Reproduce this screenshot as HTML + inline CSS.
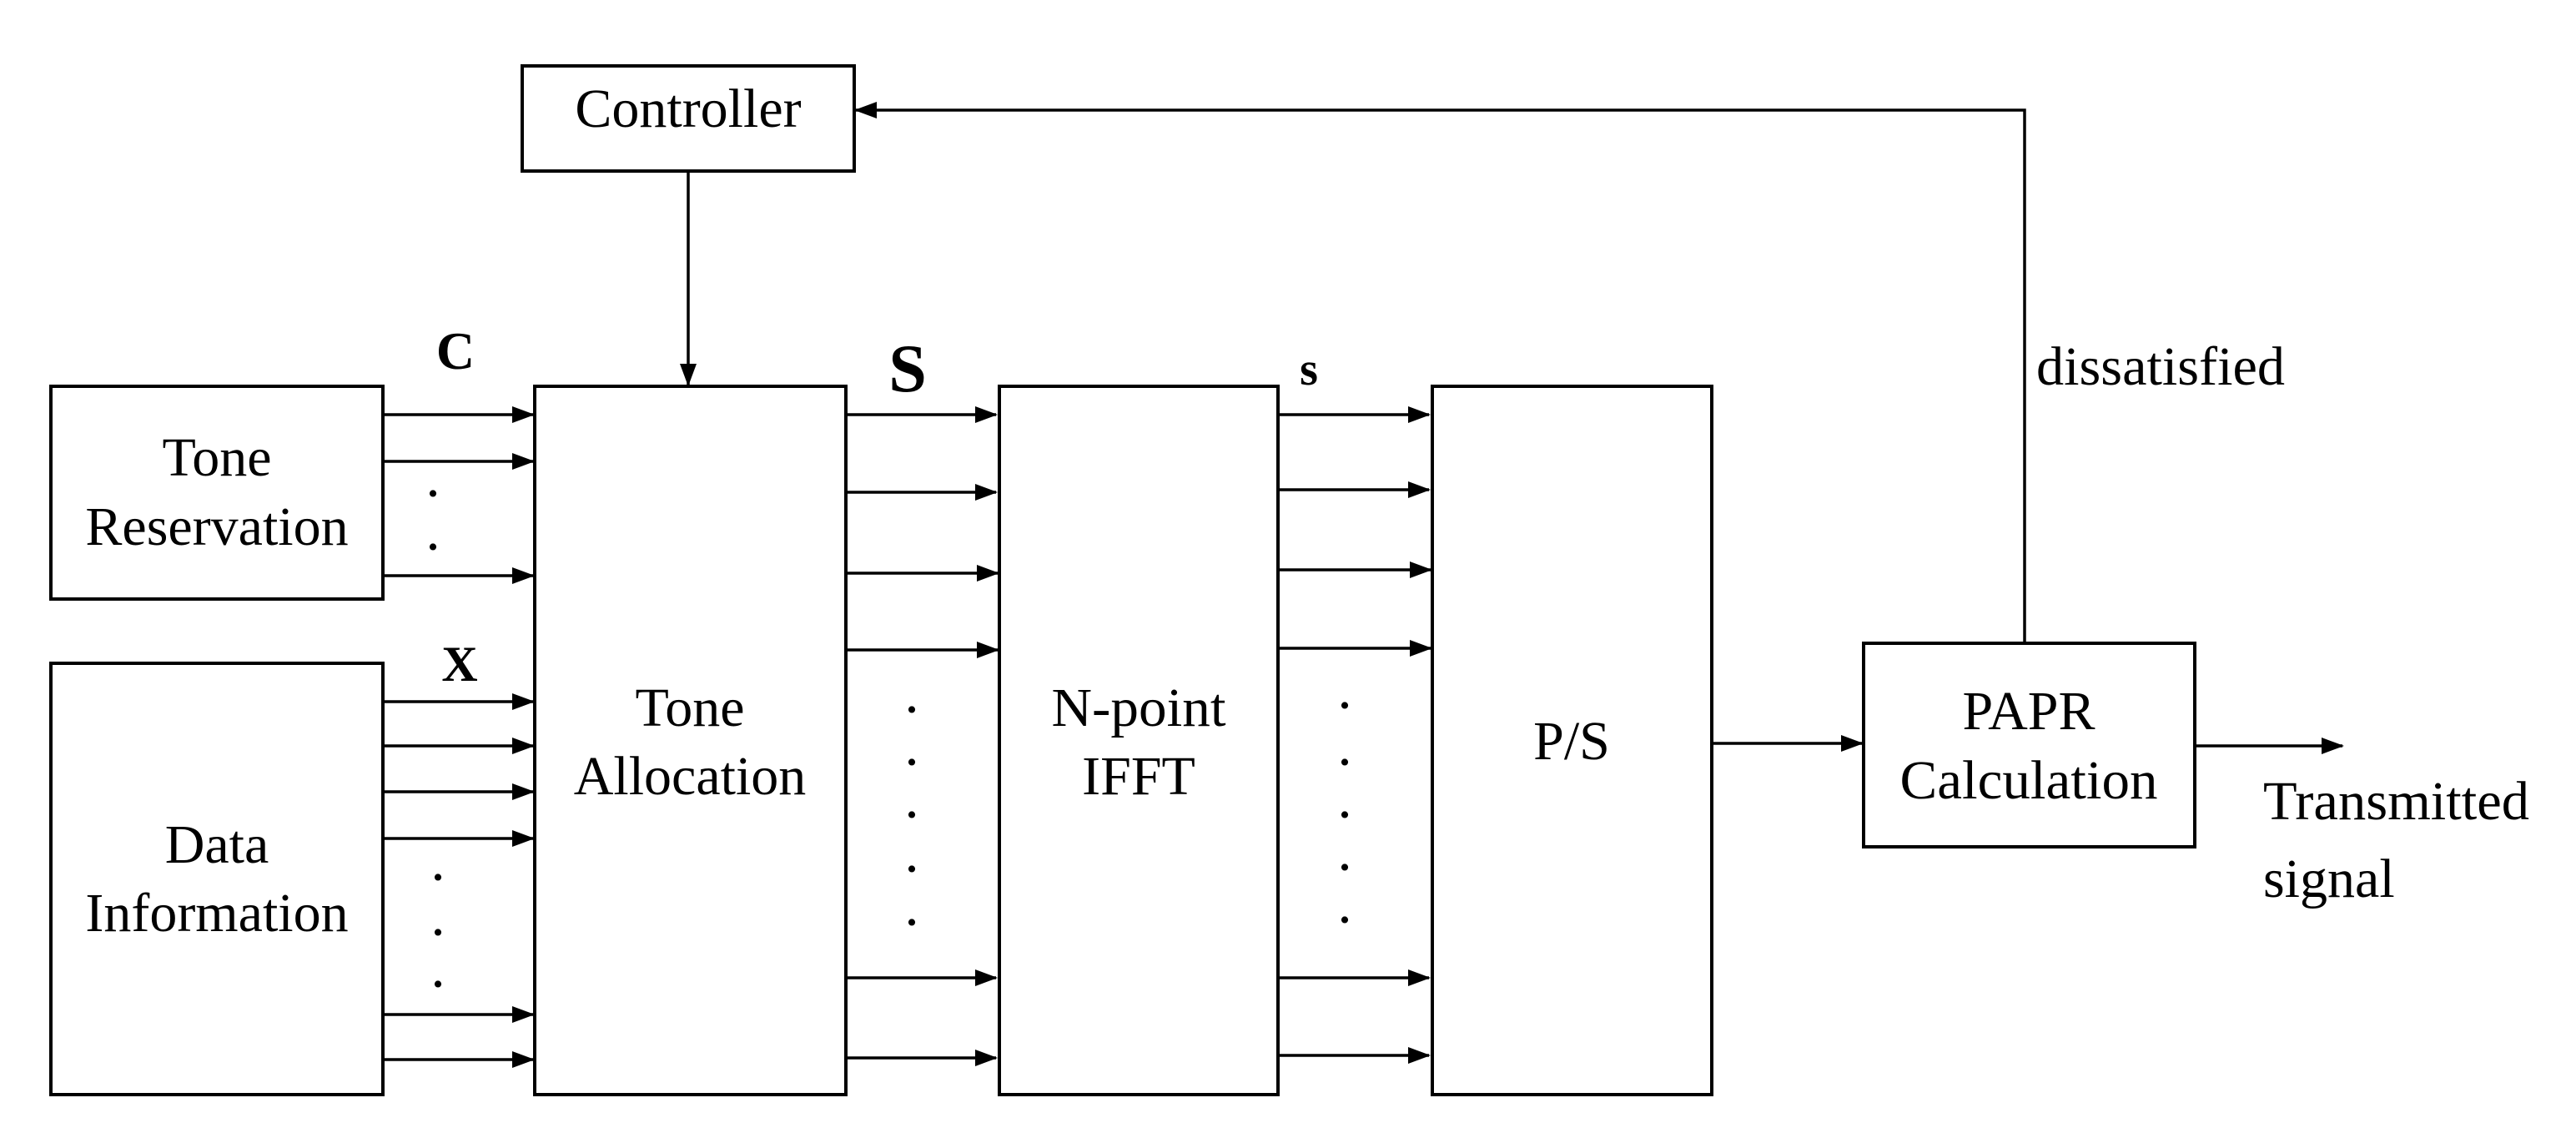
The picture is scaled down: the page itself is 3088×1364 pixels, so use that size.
<!DOCTYPE html>
<html><head><meta charset="utf-8"><style>html,body{margin:0;padding:0;background:#fff}svg{display:block}</style></head>
<body>
<svg width="3088" height="1364" viewBox="0 0 3088 1364" xmlns="http://www.w3.org/2000/svg" font-family="Liberation Serif, serif" fill="#000">
<defs><marker id="a" markerWidth="27" markerHeight="20" refX="25" refY="10" orient="auto" markerUnits="userSpaceOnUse"><path d="M0,0 L27,10 L0,20 Z" fill="#000"/></marker></defs>
<g fill="none" stroke="#000" stroke-width="4">
<rect x="626" y="79" width="398" height="126"/>
<rect x="61" y="463" width="398" height="255"/>
<rect x="61" y="795" width="398" height="517"/>
<rect x="641" y="463" width="373" height="849"/>
<rect x="1198" y="463" width="334" height="849"/>
<rect x="1717" y="463" width="335" height="849"/>
<rect x="2234" y="771" width="397" height="244"/>
</g>
<g stroke="#000" stroke-width="3.5" marker-end="url(#a)">
<line x1="825" y1="205" x2="825" y2="461"/>
<polyline points="2427,771 2427,132 1026,132" fill="none"/>
<line x1="459" y1="497" x2="639" y2="497"/>
<line x1="459" y1="553" x2="639" y2="553"/>
<line x1="459" y1="690" x2="639" y2="690"/>
<line x1="459" y1="841" x2="639" y2="841"/>
<line x1="459" y1="894" x2="639" y2="894"/>
<line x1="459" y1="949" x2="639" y2="949"/>
<line x1="459" y1="1005" x2="639" y2="1005"/>
<line x1="459" y1="1216" x2="639" y2="1216"/>
<line x1="459" y1="1270" x2="639" y2="1270"/>
<line x1="1014" y1="497" x2="1194" y2="497"/>
<line x1="1014" y1="590" x2="1194" y2="590"/>
<line x1="1014" y1="687" x2="1196" y2="687"/>
<line x1="1014" y1="779" x2="1196" y2="779"/>
<line x1="1014" y1="1172" x2="1194" y2="1172"/>
<line x1="1014" y1="1268" x2="1194" y2="1268"/>
<line x1="1532" y1="497" x2="1713" y2="497"/>
<line x1="1532" y1="587" x2="1713" y2="587"/>
<line x1="1532" y1="683" x2="1715" y2="683"/>
<line x1="1532" y1="777" x2="1715" y2="777"/>
<line x1="1532" y1="1172" x2="1713" y2="1172"/>
<line x1="1532" y1="1265" x2="1713" y2="1265"/>
<line x1="2052" y1="891" x2="2232" y2="891"/>
<line x1="2631" y1="894" x2="2808" y2="894"/>
</g>
<g font-size="50" font-weight="bold" text-anchor="middle">
<text x="519" y="595">.</text><text x="519" y="659">.</text>
<text x="525" y="1055">.</text><text x="525" y="1121">.</text><text x="525" y="1183">.</text>
<text x="1093" y="854">.</text><text x="1093" y="917">.</text><text x="1093" y="980">.</text><text x="1093" y="1045">.</text><text x="1093" y="1109">.</text>
<text x="1612" y="849">.</text><text x="1612" y="917">.</text><text x="1612" y="980">.</text><text x="1612" y="1043">.</text><text x="1612" y="1106">.</text>
</g>
<g font-size="66" text-anchor="middle">
<text x="825" y="152">Controller</text>
<text x="260" y="570">Tone</text>
<text x="260" y="653">Reservation</text>
<text x="260" y="1034">Data</text>
<text x="260" y="1116">Information</text>
<text x="827" y="870">Tone</text>
<text x="827" y="952">Allocation</text>
<text x="1365" y="870" textLength="209" lengthAdjust="spacingAndGlyphs">N-point</text>
<text x="1365" y="952">IFFT</text>
<text x="1884" y="910">P/S</text>
<text x="2432" y="874">PAPR</text>
<text x="2432" y="957" textLength="309" lengthAdjust="spacingAndGlyphs">Calculation</text>
</g>
<g font-size="66">
<text x="2441" y="461" textLength="298" lengthAdjust="spacingAndGlyphs">dissatisfied</text>
<text x="2713" y="982" textLength="319" lengthAdjust="spacingAndGlyphs">Transmitted</text>
<text x="2713" y="1075">signal</text>
</g>
<g font-weight="bold" text-anchor="middle">
<text x="546" y="442" font-size="64">C</text>
<text x="551" y="816" font-size="60">X</text>
<text x="1088" y="469" font-size="82">S</text>
<text x="1569" y="461" font-size="56">s</text>
</g>
</svg>
</body></html>
